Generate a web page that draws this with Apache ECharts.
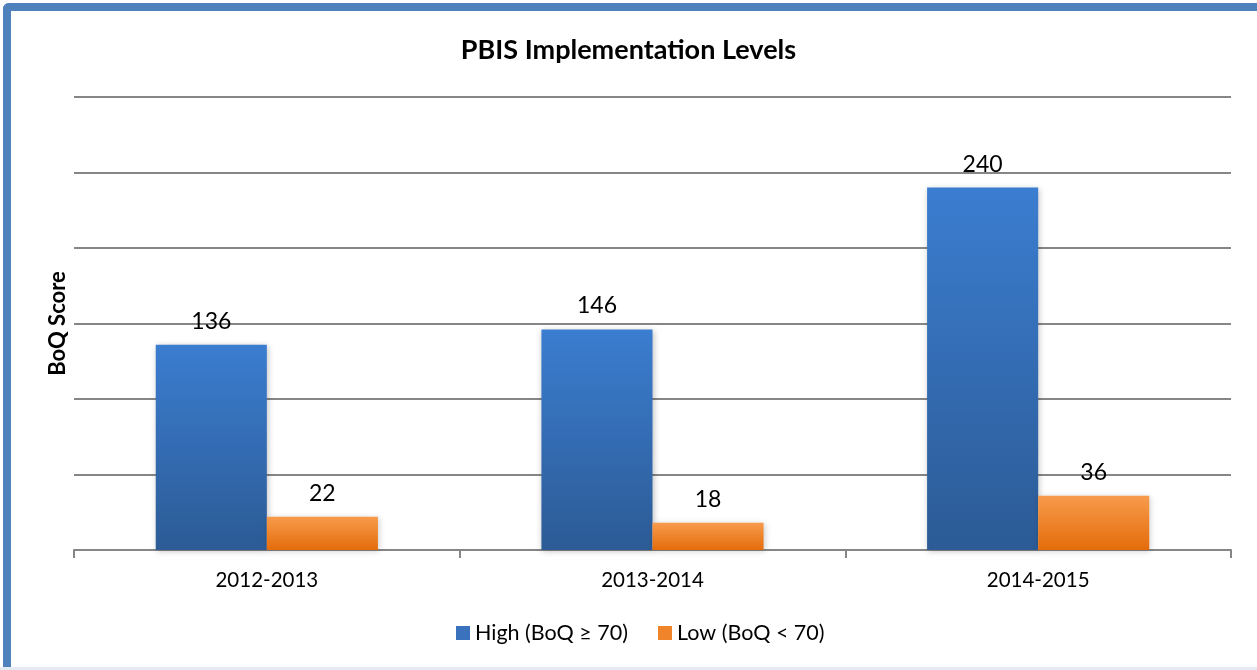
<!DOCTYPE html>
<html><head><meta charset="utf-8">
<script src="https://cdn.jsdelivr.net/npm/echarts@6/dist/echarts.min.js"></script>
<style>
html,body{margin:0;padding:0;background:#fff;}
#frame{position:absolute;left:3px;top:3px;width:1262px;height:664px;border-left:8px solid #4F81BD;border-top:8px solid #4F81BD;border-top-left-radius:6px;box-sizing:border-box;}
#bottomline{position:absolute;left:0;top:667px;width:1257px;height:3px;background:#e6ebf3;}
#c{position:absolute;left:0;top:0;width:1257px;height:670px;}
</style></head>
<body>
<div id="frame"></div>
<div id="bottomline"></div>
<div id="c"></div>
<script>
var categories = ['2012-2013', '2013-2014', '2014-2015'];
var highValues = [136, 146, 240];
var lowValues = [22, 18, 36];
var seriesNames = ['High (BoQ \u2265 70)', 'Low (BoQ < 70)'];
var titleText = 'PBIS Implementation Levels';
var yAxisName = 'BoQ Score';

var FONT = 'Lato, "Open Sans", sans-serif';
var chart = echarts.init(document.getElementById('c'), null, {renderer: 'canvas'});
function grad(top, bottom){
  return new echarts.graphic.LinearGradient(0,0,0,1,[{offset:0,color:top},{offset:1,color:bottom}]);
}
var labelStyle = {show:true, position:'top', distance:12, color:'#000', fontSize:23, fontFamily:FONT};
chart.setOption({
  animation:false,
  title:{text:titleText, left:'center', top:32, textStyle:{fontFamily:FONT, fontSize:27, fontWeight:'bold', color:'#000'}},
  grid:{left:74, right:26, top:97, bottom:120},
  legend:{bottom:21, left:451, itemWidth:14, itemHeight:14, itemGap:30,
    textStyle:{fontFamily:FONT, fontSize:21.5, color:'#000'},
    data:[{name:seriesNames[0], icon:'rect', itemStyle:{color:'#3A72BD'}},{name:seriesNames[1], icon:'rect', itemStyle:{color:'#F0842A'}}]},
  xAxis:{type:'category', data:categories,
    axisLine:{lineStyle:{color:'#868686', width:2}},
    axisTick:{show:true, length:8, lineStyle:{color:'#868686', width:2}},
    axisLabel:{fontFamily:FONT, fontSize:20.5, color:'#000', margin:20}},
  yAxis:{type:'value', min:0, max:300, interval:50,
    name:yAxisName, nameLocation:'middle', nameGap:5, nameRotate:90,
    nameTextStyle:{fontFamily:FONT, fontSize:22, fontWeight:'bold', color:'#000'},
    axisLabel:{show:false}, axisLine:{show:false}, axisTick:{show:false},
    splitLine:{lineStyle:{color:'#868686', width:2}}},
  series:[
    {name:seriesNames[0], type:'bar', data:highValues, barGap:'0%', barCategoryGap:'42.4%',
     itemStyle:{color:grad('#3B7DD0','#2C5B95'), shadowColor:'rgba(0,0,0,0.25)', shadowBlur:6, shadowOffsetX:1, shadowOffsetY:1},
     label:labelStyle},
    {name:seriesNames[1], type:'bar', data:lowValues,
     itemStyle:{color:grad('#F79B4C','#E46C0A'), shadowColor:'rgba(0,0,0,0.2)', shadowBlur:6, shadowOffsetX:1, shadowOffsetY:1},
     label:labelStyle}
  ]
});
</script>
</body></html>
